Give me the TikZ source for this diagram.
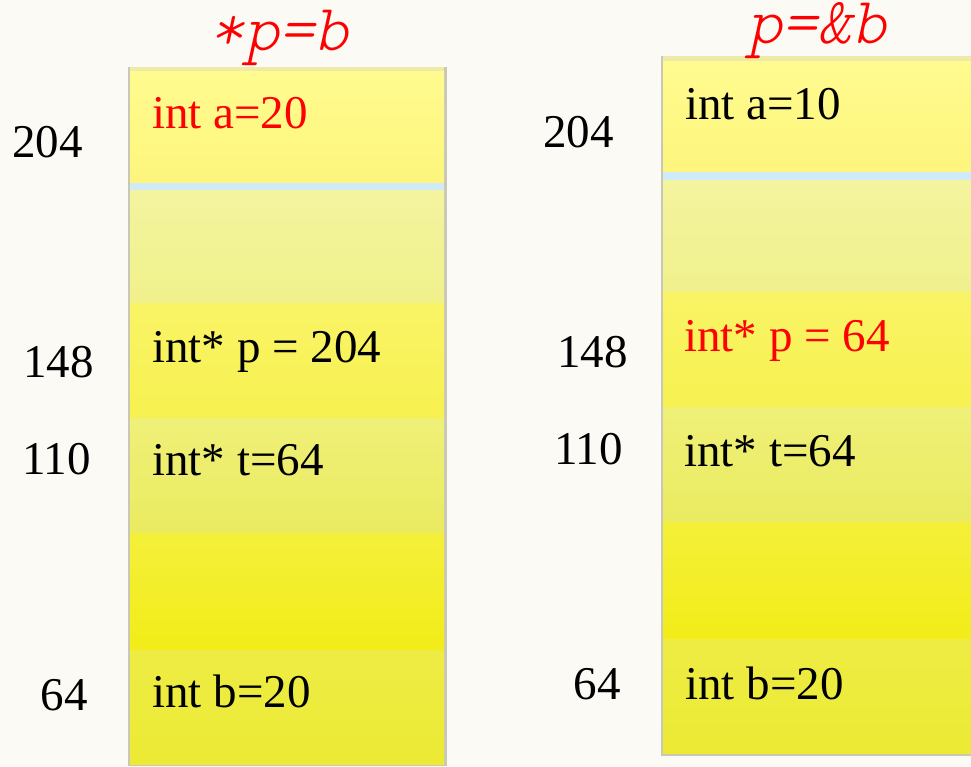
\documentclass[tikz,border=0pt]{standalone}
\usepackage{fontspec}
\setmainfont{Liberation Serif}
\newfontfamily\titlefont[FakeSlant=0.22]{Latin Modern Mono Light}
\definecolor{bg}{HTML}{FBFAF5}
\definecolor{strip}{HTML}{EEEBA8}
\definecolor{bluel}{HTML}{CFEAF8}
\definecolor{edge}{HTML}{C9C8B6}
\definecolor{redt}{HTML}{FF0000}
\tikzset{
  lbl/.style={anchor=base east,inner sep=0pt,font=\fontsize{47}{50}\selectfont},
  cell/.style={anchor=base west,inner sep=0pt,font=\fontsize{47}{50}\selectfont},
  ttl/.style={anchor=base,inner sep=0pt,text=redt,text height=36pt,text depth=12pt,font=\titlefont\fontsize{66}{68}\selectfont},
}
\newcommand\memcolumn[3]{% #1 left x, #2 right x, #3 y shift
  \begin{scope}[yshift=#3]
    \fill[edge] (#1-2,67) rectangle (#2+3,766);
    \fill[strip] (#1,67) rectangle (#2,72);
    \shade[top color={rgb,255:red,255;green,251;blue,143},bottom color={rgb,255:red,253;green,245;blue,124}] (#1,72) rectangle (#2,183);
    \fill[bluel] (#1,183) rectangle (#2,191);
    \shade[top color={rgb,255:red,243;green,244;blue,158},bottom color={rgb,255:red,240;green,241;blue,140}] (#1,191) rectangle (#2,303);
    \shade[top color={rgb,255:red,249;green,244;blue,102},bottom color={rgb,255:red,247;green,241;blue,80}] (#1,303) rectangle (#2,418);
    \shade[top color={rgb,255:red,239;green,240;blue,120},bottom color={rgb,255:red,234;green,235;blue,96}] (#1,418) rectangle (#2,533);
    \shade[top color={rgb,255:red,244;green,240;blue,58},bottom color={rgb,255:red,242;green,236;blue,24}] (#1,533) rectangle (#2,650);
    \shade[top color={rgb,255:red,238;green,236;blue,68},bottom color={rgb,255:red,236;green,234;blue,52}] (#1,650) rectangle (#2,764);
  \end{scope}}
\begin{document}
\begin{tikzpicture}[x=1pt,y=-1pt]
\useasboundingbox (0,0) rectangle (971,767);
\clip (0,0) rectangle (971,767);
\fill[bg] (0,0) rectangle (971,767);
% columns
\memcolumn{130}{444}{0pt}
\memcolumn{663}{1000}{10.5pt}
% titles
\node[ttl] (t1) at (279,51) {*p=b};
\node[ttl] (t2) at (817,44) {p=\&b};
% left column contents
\node[cell,text=redt] (la) at (152,129) {int a=20};
\node[cell] (lp) at (152,362) {int* p = 204};
\node[cell] (lt) at (152,475) {int* t=64};
\node[cell] (lb) at (152,707) {int b=20};
% left addresses
\node[lbl] (l204) at (83,158) {204};
\node[lbl] (l148) at (94,377) {148};
\node[lbl] (l110) at (91,474) {110};
\node[lbl] (l64) at (88,710) {64};
% right column contents
\node[cell] (ra) at (685,120) {int a=10};
\node[cell,text=redt] (rp) at (684,351) {int* p = 64};
\node[cell] (rt) at (684,466) {int* t=64};
\node[cell] (rb) at (685,699) {int b=20};
% right addresses
\node[lbl] (r204) at (614,148) {204};
\node[lbl] (r148) at (628,367) {148};
\node[lbl] (r110) at (623,464) {110};
\node[lbl] (r64) at (621,699) {64};
\end{tikzpicture}
\end{document}
